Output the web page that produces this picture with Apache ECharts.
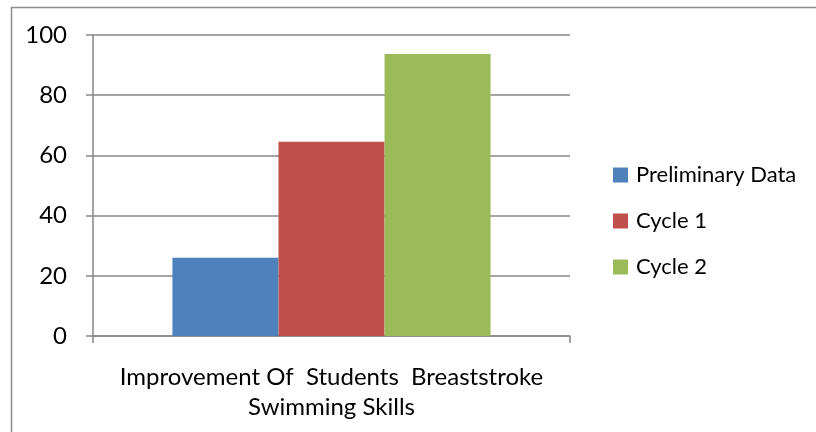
<!DOCTYPE html>
<html>
<head>
<meta charset="utf-8">
<script src="https://cdn.jsdelivr.net/npm/echarts@6/dist/echarts.min.js"></script>
<style>
  html, body { margin: 0; padding: 0; background: #fff; }
  #main { width: 816px; height: 432px; }
</style>
</head>
<body>
<div id="main"></div>
<script>
var categories = ['Improvement Of  Students  Breaststroke\nSwimming Skills'];
var seriesNames = ['Preliminary Data', 'Cycle 1', 'Cycle 2'];
var preliminary = [26];
var cycle1 = [64.5];
var cycle2 = [93.7];
var colors = ['#4F81BD', '#C0504D', '#9BBB59'];

var myChart = echarts.init(document.getElementById('main'));
var font = 'Lato, "Noto Sans", sans-serif';
var option = {
    animation: false,
    textStyle: { fontFamily: font },
    graphic: [{
        type: 'rect',
        shape: { x: 11.5, y: 7.5, width: 900, height: 500 },
        style: { fill: 'none', stroke: '#8c8c8c', lineWidth: 1.5 }
    }],
    grid: { left: 93, right: 246, top: 35, bottom: 96 },
    legend: {
        orient: 'vertical',
        left: 613,
        top: 164,
        padding: 0,
        itemWidth: 15,
        itemHeight: 15,
        itemGap: 24,
        icon: 'rect',
        textStyle: { fontSize: 22, color: '#000', fontFamily: font, padding: [0, 0, 0, 3] },
        data: seriesNames
    },
    xAxis: {
        type: 'category',
        data: categories,
        axisLine: { lineStyle: { color: '#868686', width: 1.5 } },
        axisTick: { show: true, length: 7, lineStyle: { color: '#868686', width: 1.5 } },
        axisLabel: { fontSize: 24, color: '#000', margin: 26, lineHeight: 30, fontFamily: font }
    },
    yAxis: {
        type: 'value',
        min: 0,
        max: 100,
        interval: 20,
        axisLine: { show: true, lineStyle: { color: '#868686', width: 1.5 } },
        axisTick: { show: true, length: 7, lineStyle: { color: '#868686', width: 1.5 } },
        splitLine: { lineStyle: { color: '#868686', width: 1.5 } },
        axisLabel: { fontSize: 24, color: '#000', margin: 26, fontFamily: font }
    },
    series: [
        { name: seriesNames[0], type: 'bar', data: preliminary, barGap: '0%', barCategoryGap: '33.3%', itemStyle: { color: colors[0] } },
        { name: seriesNames[1], type: 'bar', data: cycle1, barGap: '0%', barCategoryGap: '33.3%', itemStyle: { color: colors[1] } },
        { name: seriesNames[2], type: 'bar', data: cycle2, barGap: '0%', barCategoryGap: '33.3%', itemStyle: { color: colors[2] } }
    ]
};
myChart.setOption(option);
</script>
</body>
</html>
